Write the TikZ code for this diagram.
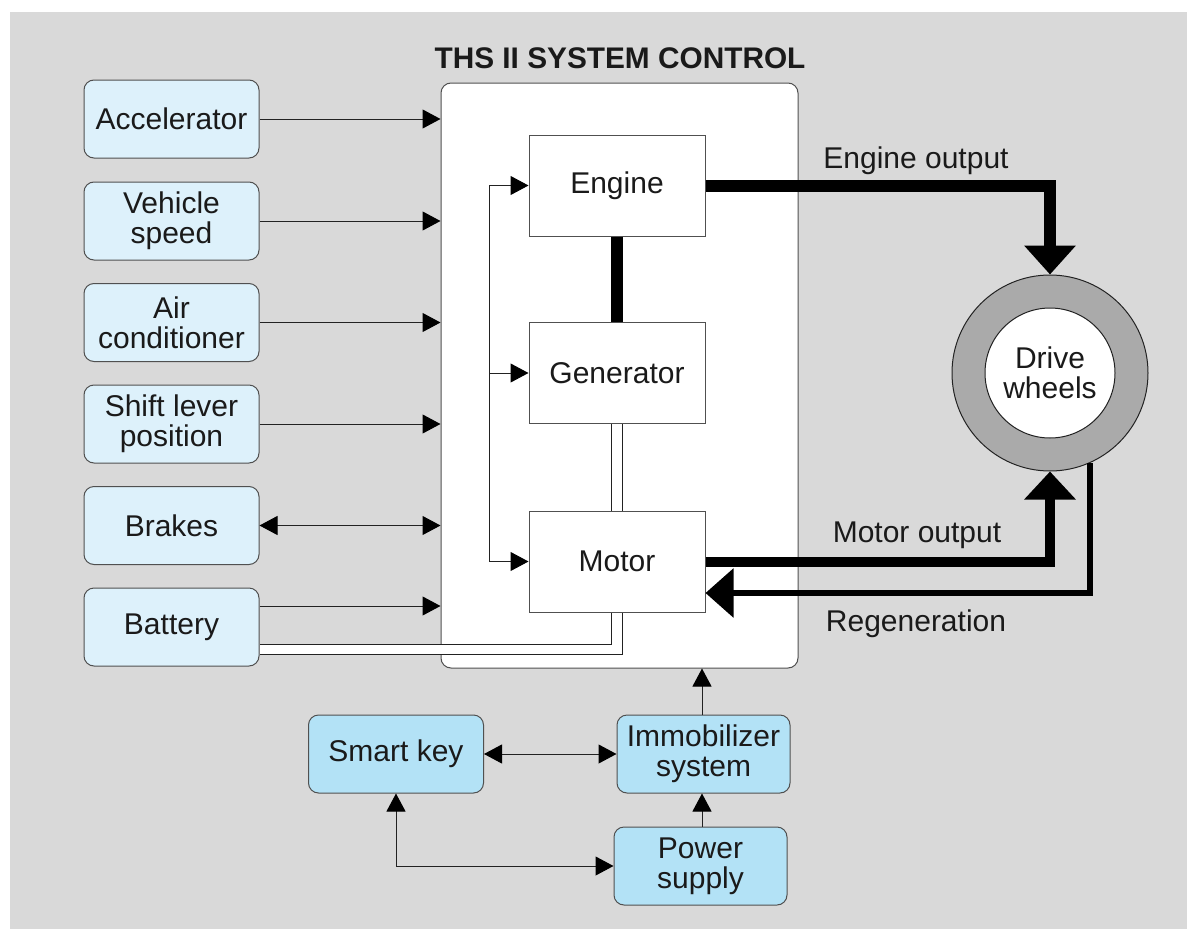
\documentclass[tikz,border=0pt]{standalone}
\usepackage{fontspec}
\setmainfont{Liberation Sans}
\usetikzlibrary{arrows.meta,calc}
\pgfdeclarelayer{bg}
\pgfdeclarelayer{mid}
\pgfsetlayers{bg,mid,main}
\definecolor{bggray}{HTML}{D9D9D9}
\definecolor{inbox}{HTML}{DDF1FB}
\definecolor{keybox}{HTML}{B3E2F6}
\definecolor{linec}{HTML}{222222}
\definecolor{boxline}{HTML}{505050}
\definecolor{ring}{HTML}{AAAAAA}
\definecolor{txt}{HTML}{1A1A1A}
\begin{document}
\begin{tikzpicture}[x=1pt,y=-1pt,
  lbl/.style={font=\fontsize{30}{30}\selectfont, text=txt, align=center},
  inbox/.style={lbl, draw=boxline, line width=1pt, fill=inbox, rounded corners=10pt,
    minimum width=175pt, minimum height=78pt, inner sep=0pt},
  keybox/.style={inbox, fill=keybox},
  unit/.style={lbl, draw=boxline, line width=1pt, fill=white,
    minimum width=176pt, minimum height=101pt, inner sep=0pt},
  tip/.style={Triangle[length=18pt,width=19pt,fill=black,color=black]},
  tarrow/.style={draw=linec, line width=1pt, -{Triangle[length=18pt,width=19pt,color=black]}},
  tdarrow/.style={draw=linec, line width=1pt, {Triangle[length=18pt,width=19pt,color=black]}-{Triangle[length=18pt,width=19pt,color=black]}},
  tline/.style={draw=linec, line width=1pt},
  dline/.style={draw=linec, line width=1pt, double=white, double distance=9.5pt},
  powerflow/.style={draw=black, line width=#1},
]
\useasboundingbox (0,0) rectangle (1187,929);

\begin{pgfonlayer}{bg}
  \fill[bggray] (10,12) rectangle (1187,929);
  \node[draw=boxline, line width=1pt, fill=white, rounded corners=10pt,
        minimum width=357pt, minimum height=585pt, inner sep=0pt] (ths) at (619.5,375.5) {};
\end{pgfonlayer}

\node[lbl, font=\bfseries\fontsize{29.8}{30}\selectfont] (title) at (620,58) {THS II SYSTEM CONTROL};

% inputs
\node[inbox] (acc)   at (171.5,119)   {Accelerator};
\node[inbox] (veh)   at (171.5,221)   {Vehicle\\speed};
\node[inbox] (air)   at (171.5,322.5) {Air\\conditioner};
\node[inbox] (shift) at (171.5,424)   {Shift lever\\position};
\node[inbox] (brk)   at (171.5,525.5) {Brakes};
\node[inbox] (bat)   at (171.5,627)   {Battery};

% units
\node[unit] (eng) at (617,185.5) {Engine};
\node[unit] (gen) at (617,373)   {Generator};
\node[unit] (mot) at (617,561.5) {Motor};

% wheel
\node[circle, draw=linec, line width=1pt, fill=ring, minimum size=196pt, inner sep=0pt] (wheel) at (1050,373) {};
\node[lbl, circle, draw=linec, line width=1pt, fill=white, minimum size=130pt, inner sep=0pt] (hub) at (wheel.center) {Drive\\wheels};

% bottom
\node[keybox] (smart) at (396,754)   {Smart key};
\node[keybox, minimum width=173pt] (imm)   at (703.5,754) {Immobilizer\\system};
\node[keybox, minimum width=173pt] (pow)   at (700.5,866) {Power\\supply};

% input arrows
\draw[tarrow] (acc.east) -- (acc.east -| ths.west);
\draw[tarrow] (veh.east) -- (veh.east -| ths.west);
\draw[tarrow] (air.east) -- (air.east -| ths.west);
\draw[tarrow] (shift.east) -- (shift.east -| ths.west);
\draw[tdarrow] (brk.east) -- (brk.east -| ths.west);
\coordinate (batout) at ($(bat.east)+(0,-21)$);
\draw[tarrow] (batout) -- (batout -| ths.west);

% control bus
\coordinate (b1) at (489,185.5);
\coordinate (b3) at (489,561.5);
\draw[tline] (b1) -- (b3);
\draw[tarrow] (b1) -- (eng.west);
\draw[tarrow] (b1 |- gen.west) -- (gen.west);
\draw[tarrow] (b3) -- (mot.west);

% electrical links (double lines)
\begin{pgfonlayer}{mid}
  \draw[dline] (gen.south) -- (mot.north);
  \coordinate (bk) at ($(mot.south)+(0,37)$);
  \draw[dline] (mot.south) -- (bk) -- (bk -| bat.east);
\end{pgfonlayer}

% mechanical links
\draw[powerflow=12pt] (eng.south) -- (gen.north);
\draw[powerflow=12pt, -{Triangle[length=29pt,width=50pt]}] (eng.east) -| (wheel.north);
\draw[powerflow=10pt, -{Triangle[length=28pt,width=50pt]}] (mot.east) -| (wheel.south);
\coordinate (rg) at ($(mot.east)+(0,31.5)$);
\draw[powerflow=6pt, -{Triangle[length=28pt,width=48pt]}] (wheel.-66) |- (rg);

\node[lbl, anchor=base] (lEng) at (916,168) {Engine output};
\node[lbl, anchor=base] (lMot) at (917,542) {Motor output};
\node[lbl, anchor=base] (lReg) at (916,631) {Regeneration};

% bottom arrows
\draw[tdarrow] (smart.east) -- (imm.west);
\draw[tarrow] (702,715) coordinate (imt) -- (imt |- ths.south);
\draw[tarrow] (pow.north -| imt) -- (imm.south -| imt);
\draw[tdarrow] (smart.south) |- (pow.west);
\end{tikzpicture}
\end{document}
